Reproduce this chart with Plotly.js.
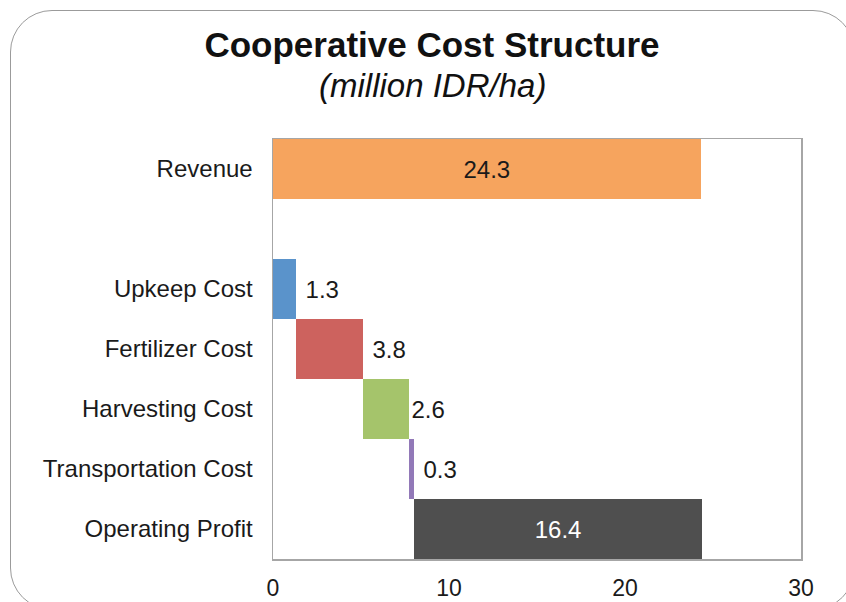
<!DOCTYPE html>
<html>
<head>
<meta charset="utf-8">
<script src="https://cdn.plot.ly/plotly-3.0.1.min.js"></script>
<style>
  html, body { margin: 0; padding: 0; background: #ffffff; overflow: hidden; }
  #wrap { position: relative; width: 846px; height: 602px; overflow: hidden; }
  #frame { position: absolute; left: 10px; top: 10px; width: 845px; height: 600px;
           border: 1.5px solid #9b9b9b; border-radius: 42px; box-sizing: border-box; pointer-events: none; }
  #chart { position: absolute; left: 0; top: 0; width: 846px; height: 602px; }
</style>
</head>
<body>
<div id="wrap">
  <div id="chart"></div>
  <div id="frame"></div>
</div>
<script>
// Categories (top to bottom); ' ' is the empty spacer row
var categories = ['Revenue', ' ', 'Upkeep Cost', 'Fertilizer Cost', 'Harvesting Cost', 'Transportation Cost', 'Operating Profit'];
// Bar lengths (million IDR/ha)
var values = [24.3, null, 1.3, 3.8, 2.6, 0.3, 16.4];
// Bar starting points (waterfall offsets)
var bases = [0, null, 0, 1.3, 5.1, 7.7, 8.0];
// Data labels
var labels = ['24.3', '', '1.3', '3.8', '2.6', '0.3', '16.4'];
var colors = ['#F6A45E', '#ffffff', '#5A93CB', '#CD625E', '#A5C46B', '#9279B8', '#4F4F4F'];
var labelPos = ['inside', 'none', 'outside', 'outside', 'outside', 'outside', 'inside'];
var labelTemplates = ['%{text}', '', ' %{text}', ' %{text}', '%{text}', ' %{text}', '%{text}'];
var labelColors = ['#1a1a1a', '#1a1a1a', '#1a1a1a', '#1a1a1a', '#1a1a1a', '#1a1a1a', '#ffffff'];
var xTicks = [0, 10, 20, 30];

var trace = {
  type: 'bar',
  orientation: 'h',
  y: categories,
  x: values,
  base: bases,
  text: labels,
  texttemplate: labelTemplates,
  textposition: labelPos,
  insidetextanchor: 'middle',
  textangle: 0,
  constraintext: 'none',
  cliponaxis: false,
  textfont: { family: 'Liberation Sans, Arial, sans-serif', size: 24, color: labelColors },
  marker: { color: colors, line: { width: 0 } },
  hoverinfo: 'none'
};

var layout = {
  width: 846,
  height: 602,
  margin: { l: 273, r: 45, t: 139, b: 43 },
  paper_bgcolor: 'rgba(0,0,0,0)',
  plot_bgcolor: '#ffffff',
  font: { family: 'Liberation Sans, Arial, sans-serif', color: '#1a1a1a' },
  title: {
    text: '<b>Cooperative Cost Structure</b>',
    font: { family: 'Liberation Sans, Arial, sans-serif', size: 35, color: '#111111' },
    x: 432 / 846, xanchor: 'center',
    y: 1 - 45 / 602, yanchor: 'middle', yref: 'container'
  },
  annotations: [{
    text: '<i>(million IDR/ha)</i>',
    font: { family: 'Liberation Sans, Arial, sans-serif', size: 33, color: '#111111' },
    showarrow: false,
    xref: 'paper', yref: 'paper',
    x: (432 - 273) / 528, y: (559 - 85) / 420,
    xanchor: 'center', yanchor: 'middle'
  }],
  bargap: 0,
  showlegend: false,
  xaxis: {
    range: [0, 30],
    tickvals: xTicks,
    ticktext: xTicks.map(String),
    showgrid: false,
    zeroline: false,
    showline: true,
    mirror: true,
    linecolor: '#a6a6a6',
    linewidth: 1.5,
    ticks: '',
    ticklabelstandoff: 8,
    tickfont: { size: 23, color: '#1a1a1a' },
    fixedrange: true
  },
  yaxis: {
    type: 'category',
    categoryorder: 'array',
    categoryarray: categories,
    autorange: 'reversed',
    showgrid: false,
    zeroline: false,
    showline: true,
    mirror: true,
    linecolor: '#a6a6a6',
    linewidth: 1.5,
    ticks: '',
    ticklabelstandoff: 14,
    tickfont: { size: 24, color: '#1a1a1a' },
    fixedrange: true
  }
};

Plotly.newPlot('chart', [trace], layout, { displayModeBar: false, staticPlot: true });
</script>
</body>
</html>
